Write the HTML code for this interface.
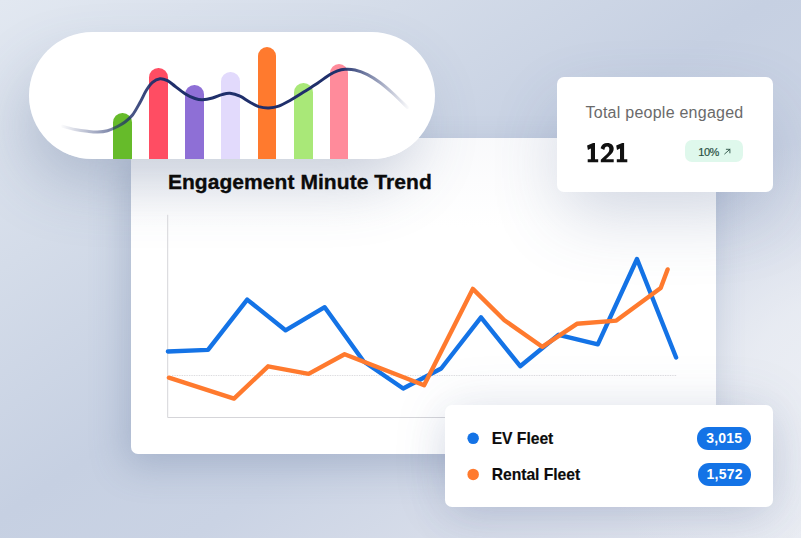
<!DOCTYPE html>
<html>
<head>
<meta charset="utf-8">
<style>
*{margin:0;padding:0;box-sizing:border-box}
html,body{width:801px;height:538px;overflow:hidden}
body{font-family:"Liberation Sans",sans-serif;position:relative;background:#c4cde0}
#bg{position:absolute;left:0;top:0;width:801px;height:538px;
background:
radial-gradient(ellipse 250px 250px at 835px 390px,rgba(235,238,244,1) 0%,rgba(235,238,244,.8) 35%,rgba(235,238,244,.35) 65%,rgba(235,238,244,0) 100%),
linear-gradient(to bottom right,#e2e8f1 0%,#d4dce9 25%,#c6d0e2 48%,#cad3e4 62%,#d6dce9 76%,#e8ebf2 100%);
}
#card{position:absolute;left:131px;top:137.500px;width:585px;height:316.500px;border-radius:7px;
background:#fff;
box-shadow:-7px 14px 36px -2px rgba(78,98,140,.27);}
#cardshade{position:absolute;left:131px;top:137.500px;width:585px;height:90px;border-radius:7px 7px 0 0;background:linear-gradient(180deg,rgba(205,210,226,.12) 0%,rgba(200,206,224,0) 100%)}
#pill{position:absolute;left:29px;top:32px;width:406px;height:127px;border-radius:64px;background:#fff;overflow:hidden;
}
#pillshadow{position:absolute;left:29px;top:32px;width:406px;height:127px;border-radius:64px;box-shadow:-12px 30px 64px -8px rgba(72,92,136,.29);}
.bar{position:absolute;width:18.7px;bottom:0;border-radius:9.4px 9.4px 0 0}
#title{position:absolute;left:167.900px;top:170.100px;font-weight:bold;font-size:21px;line-height:24px;color:#0b0b0b;white-space:nowrap;letter-spacing:0.060px;-webkit-text-stroke:0.35px #0b0b0b}
#tcard{position:absolute;left:556.800px;top:76.800px;width:215.800px;height:115.300px;border-radius:7px;background:#fff;box-shadow:0 28px 70px -6px rgba(70,90,140,.24);}
#tlabel{position:absolute;left:28.700px;top:27.400px;font-size:16px;line-height:18px;color:#6a6a6a;white-space:nowrap;letter-spacing:0.250px}
#tnum{position:absolute;left:28px;top:62.300px;font-size:27px;line-height:28px;font-weight:bold;color:#0b0b0b;white-space:nowrap;letter-spacing:-0.700px}
#tbadge{position:absolute;left:128px;top:63px;width:58.100px;height:22.500px;border-radius:7px;background:#dff8ec;}
#tbadge span{position:absolute;left:13.500px;top:6px;font-size:11px;line-height:13px;color:#2b5144;white-space:nowrap;letter-spacing:-0.500px;-webkit-text-stroke:0.2px #2b5144}
#lcard{position:absolute;left:445.400px;top:405.300px;width:327.800px;height:102px;border-radius:7px;background:#fff;box-shadow:0 14px 40px -4px rgba(70,90,140,.15),0 0 54px rgba(70,90,140,.13);}
.dot{position:absolute;width:11.6px;height:11.6px;border-radius:50%}
.ltxt{position:absolute;left:46.300px;font-weight:bold;font-size:15.700px;line-height:18px;color:#0b0b0b;white-space:nowrap;letter-spacing:-0.040px;-webkit-text-stroke:0.15px #0b0b0b}
.lb{position:absolute;height:22.4px;border-radius:11.2px;background:#1473e6;color:#fff;font-weight:bold;font-size:14px;line-height:22.400px;text-align:center;white-space:nowrap;letter-spacing:.250px}
svg{position:absolute;left:0;top:0}
</style>
</head>
<body>
<div id="bg"></div>
<div id="card"></div>
<div id="cardshade"></div>
<div id="pillshadow"></div>
<div id="pill">
  <div class="bar" style="left:84.4px;height:46px;background:#66bb2a"></div>
  <div class="bar" style="left:120.3px;height:91.5px;background:#ff4d63"></div>
  <div class="bar" style="left:156.4px;height:74.3px;background:#8e6fd6"></div>
  <div class="bar" style="left:192.3px;height:86.6px;background:#e2dafc"></div>
  <div class="bar" style="left:228.6px;height:111.7px;background:#ff7a2e"></div>
  <div class="bar" style="left:264.9px;height:76px;background:#a9e878"></div>
  <div class="bar" style="left:300.8px;height:95.5px;background:#ff8b9b"></div>
</div>
<svg width="801" height="538" viewBox="0 0 801 538">
  <defs>
    <linearGradient id="cg" gradientUnits="userSpaceOnUse" x1="60" y1="0" x2="410" y2="0">
      <stop offset="0" stop-color="#1f2f6b" stop-opacity="0"/>
      <stop offset="0.2" stop-color="#1f2f6b" stop-opacity="0.8"/>
      <stop offset="0.3" stop-color="#1f2f6b" stop-opacity="1"/>
      <stop offset="0.8" stop-color="#1f2f6b" stop-opacity="1"/>
      <stop offset="1" stop-color="#1f2f6b" stop-opacity="0"/>
    </linearGradient>
  </defs>
  <path d="M62.5 126.2 C64.6 126.8 70.8 128.7 75.0 129.5 C79.2 130.3 83.8 130.9 87.5 131.3 C91.2 131.7 94.2 132.1 97.5 132.0 C100.8 131.9 104.2 131.6 107.5 130.7 C110.8 129.8 114.6 128.0 117.5 126.5 C120.4 125.0 122.5 123.9 125.0 122.0 C127.5 120.1 130.0 118.2 132.5 115.0 C135.0 111.8 137.7 106.6 140.0 102.5 C142.3 98.4 144.1 93.9 146.2 90.5 C148.3 87.1 150.2 84.3 152.5 82.3 C154.8 80.3 157.5 79.0 160.0 78.7 C162.5 78.4 165.0 79.5 167.5 80.7 C170.0 82.0 172.1 84.0 175.0 86.2 C177.9 88.4 181.7 91.7 185.0 93.7 C188.3 95.8 192.1 97.5 195.0 98.5 C197.9 99.5 199.6 99.9 202.5 99.8 C205.4 99.7 209.2 98.9 212.5 98.0 C215.8 97.1 219.1 95.4 222.0 94.6 C224.9 93.8 227.0 93.0 230.0 93.3 C233.0 93.6 236.7 94.7 240.0 96.2 C243.3 97.7 246.9 100.6 250.0 102.3 C253.1 104.0 255.6 105.6 258.7 106.6 C261.8 107.5 265.4 108.1 268.7 108.0 C272.0 107.9 275.1 107.5 278.7 106.2 C282.2 105.0 285.6 103.0 290.0 100.5 C294.4 98.0 300.4 94.1 305.0 91.2 C309.6 88.3 313.3 86.0 317.5 83.2 C321.7 80.4 326.7 76.5 330.0 74.5 C333.3 72.5 335.0 71.8 337.5 70.9 C340.0 70.0 342.1 69.5 345.0 69.3 C347.9 69.1 351.2 69.1 355.0 70.0 C358.8 70.9 363.3 72.5 367.5 74.6 C371.7 76.7 375.8 79.4 380.0 82.5 C384.2 85.6 387.9 88.8 392.5 93.0 C397.1 97.2 405.0 105.1 407.5 107.5" fill="none" stroke="url(#cg)" stroke-width="3" stroke-linecap="round"/>
  <!-- axes -->
  <path d="M167.700 214.800 V417.500 H676" fill="none" stroke="#d5d5d9" stroke-width="1"/>
  <path d="M172 375.500 H677" fill="none" stroke="#d6d6da" stroke-width="1" stroke-dasharray="0.85 0.85"/>
  <!-- blue -->
  <polyline points="167.900,351.500 208,349.900 247.200,299.600 285.500,330.300 324.700,307.200 363.700,361.500 403.200,388.500 441.200,368.500 481,317.300 520.200,366.200 558.600,334.800 597.800,344.300 637,259 676.100,357.500" fill="none" stroke="#1473e6" stroke-width="4.400" stroke-linejoin="round" stroke-linecap="round"/>
  <polyline points="168.900,377.700 234,398.600 268.100,366.300 308.600,373.900 344.600,354.300 424.100,385.300 472.800,288.900 504.400,320.200 542.200,346.800 576.900,323.800 616.400,320.600 660.700,288 667.600,269.400" fill="none" stroke="#ff7a2e" stroke-width="4.400" stroke-linejoin="round" stroke-linecap="round"/>
</svg>
<div id="title">Engagement Minute Trend</div>
<div id="tcard">
  <div id="tlabel">Total people engaged</div>
  
  <div id="tbadge"><span>10%</span>
    <svg width="59" height="23" viewBox="0 0 59 23"><path d="M39.700 13.900 L44.900 9.300 M41.300 9.300 H44.900 V12.900" fill="none" stroke="#2b5144" stroke-width="0.900" stroke-linecap="round" stroke-linejoin="round"/></svg>
  </div>
</div>
<div id="lcard">
  <div class="ltxt" style="top:25px">EV Fleet</div>
  <div class="ltxt" style="top:61px">Rental Fleet</div>
  <div class="lb" style="left:251.700px;top:21.900px;width:54.400px">3,015</div>
  <div class="lb" style="left:252.600px;top:58px;width:53.500px">1,572</div>
</div>
<svg width="801" height="538" viewBox="0 0 801 538" style="pointer-events:none">
  <circle cx="473.150" cy="438.350" r="5.750" fill="#1473e6"/><circle cx="473.150" cy="474.400" r="5.750" fill="#ff7a2e"/>
  <g fill="#111"><path d="M593.1,143.1 L595.0,143.1 L595.0,159.2 L598.2,159.2 L598.2,162.2 L587.7,162.2 L587.7,159.2 L590.9,159.2 L590.9,148.4 L587.9,149.9 L587.1,145.5 Z"/><path d="M600.6,148.300 C601.4,144.900 603.900,143.100 607.300,143.100 C611.200,143.100 613.700,145.400 613.700,148.800 C613.700,151.500 612.300,153.200 610,155.300 L605.900,159.200 L613.700,159.200 L613.700,162.200 L600.800,162.200 L600.800,159.700 L607,154 C608.600,152.400 609.300,151 609.300,149.300 C609.300,147.500 608.500,146.500 607.100,146.500 C605.600,146.500 604.800,147.700 604.300,149.900 Z"/><path d="M622.2,143.1 L624.1,143.1 L624.1,159.2 L627.3,159.2 L627.3,162.2 L616.8,162.2 L616.8,159.2 L620.0,159.2 L620.0,148.4 L617.0,149.9 L616.2,145.5 Z"/></g>
</svg>
</body>
</html>
